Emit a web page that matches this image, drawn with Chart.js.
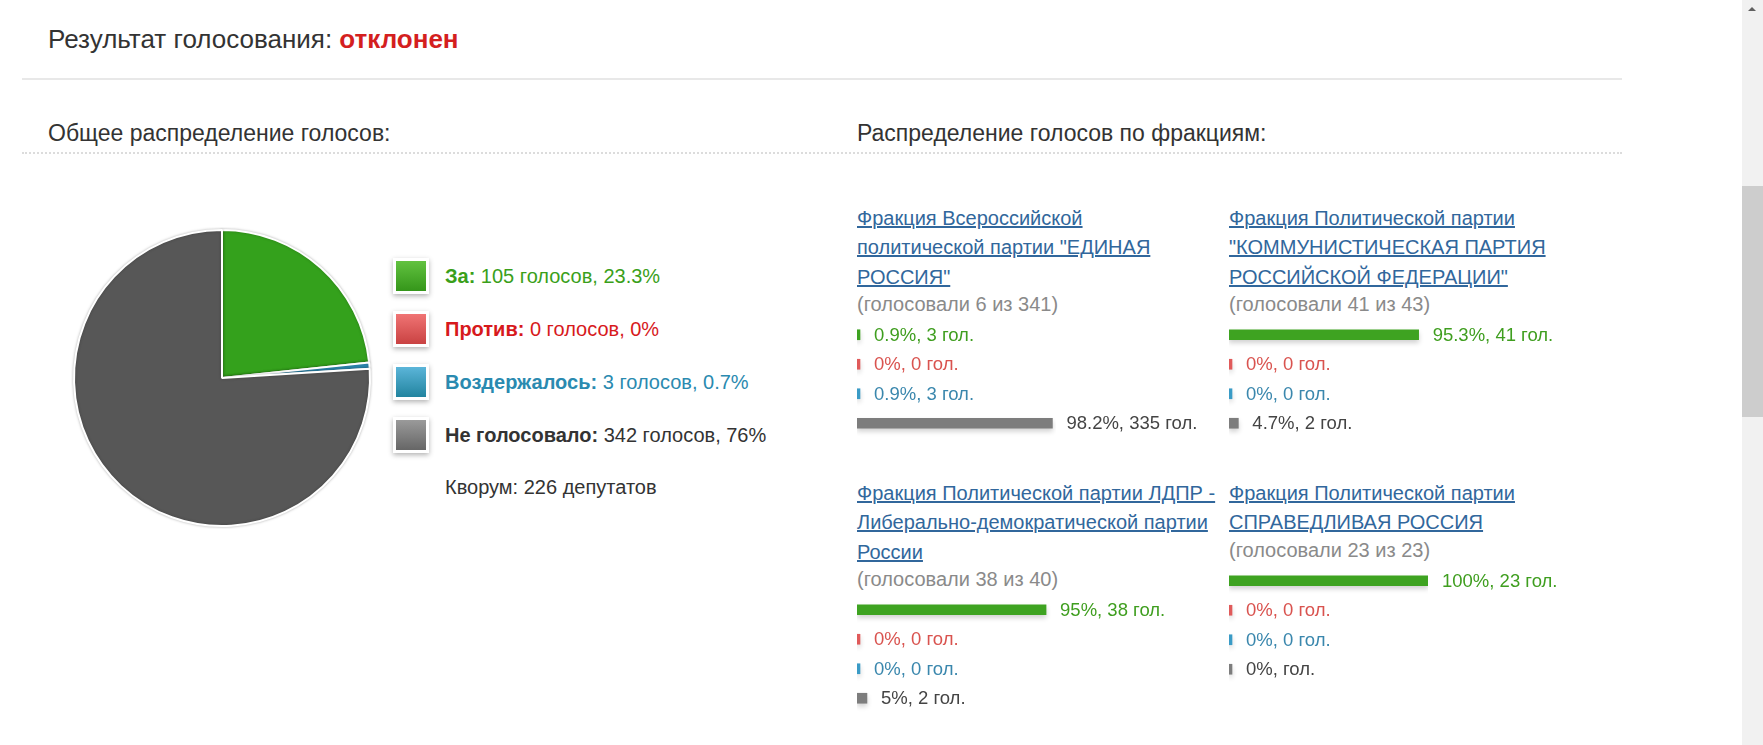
<!DOCTYPE html>
<html lang="ru">
<head>
  <meta charset="UTF-8" />
  <title>Результат голосования</title>
  <script src="https://cdn.jsdelivr.net/npm/chart.js"></script>
  <style>
    body {
      margin: 0;
      width: 1763px;
      height: 745px;
      overflow: hidden;
      position: relative;
      background: #fff;
      color: #333;
      font-family: "Liberation Sans", Arial, sans-serif;
    }
    .abs { position: absolute; }
    #title { left: 48px; top: 24px; font-size: 26px; line-height: 30px; white-space: nowrap; }
    #title b { color: #d41f1f; }
    .rule { left: 22px; width: 1600px; height: 0; }
    #rule1 { top: 78px; border-top: 2px solid #e8e8e8; }
    #rule2 { top: 152px; border-top: 2px dotted #dcdcdc; }
    .sub { top: 119px; font-size: 23px; line-height: 28px; white-space: nowrap; }
    #pie { left: 71px; top: 227px; }
    .leg { left: 393px; height: 36px; white-space: nowrap; }
    .sq {
      position: absolute; left: 0; top: 0; width: 30px; height: 30px;
      border: 3px solid #fff; box-shadow: 0 2px 5px rgba(0,0,0,0.3);
    }
    .leg span { position: absolute; left: 52px; top: 0; font-size: 20px; line-height: 36px; }
    #quorum { left: 445px; top: 473px; font-size: 20px; line-height: 28px; }
    .frac { width: 372px; }
    .frac a {
      display: block; font-size: 20px; line-height: 29.3px; color: #31679c;
      text-decoration: underline; white-space: nowrap;
    }
    .frac .voted { font-size: 20px; line-height: 24px; color: #8a8a8a; white-space: nowrap; }
    .frac canvas { display: block; margin-top: 4px; margin-left: -4px; }
    #scroll { right: 0; top: 0; width: 21px; height: 745px; background: #f1f1f1; }
    #thumb { left: 0; top: 186px; width: 21px; height: 231px; background: #cdcdcd; }
    #arrow {
      left: 6px; top: 7px; width: 0; height: 0;
      border-left: 4px solid transparent; border-right: 4px solid transparent;
      border-bottom: 4px solid #606060;
    }
  </style>
</head>
<body>
  <div id="title" class="abs">Результат голосования: <b>отклонен</b></div>
  <div id="rule1" class="abs rule"></div>
  <div class="abs sub" style="left:48px">Общее распределение голосов:</div>
  <div class="abs sub" style="left:857px">Распределение голосов по фракциям:</div>
  <div id="rule2" class="abs rule"></div>

  <canvas id="pie" class="abs" width="302" height="302"></canvas>
  <div id="legend"></div>
  <div id="quorum" class="abs"></div>
  <div id="factions"></div>

  <div id="scroll" class="abs"><div id="arrow" class="abs"></div><div id="thumb" class="abs"></div></div>

  <script>
    // общее распределение
    const voteLabels = ['За', 'Против', 'Воздержалось', 'Не голосовало'];
    const voteCounts = [105, 0, 3, 342];
    const votePercents = ['23.3', '0', '0.7', '76'];
    const quorum = 226;

    const sliceColors = ['#34a11c', '#d9534f', '#2e8db5', '#575757'];
    const legendText = ['#3a9f1a', '#d7191c', '#2a8ab0', '#333333'];
    const legendSquares = [
      'linear-gradient(#62c240, #35961a)',
      'linear-gradient(#f07474, #c94242)',
      'linear-gradient(#5bb5d9, #22849f)',
      'linear-gradient(#9a9a9a, #666666)'
    ];

    // по фракциям
    const factionNames = [
      ['Фракция Всероссийской', 'политической партии "ЕДИНАЯ', 'РОССИЯ"'],
      ['Фракция Политической партии', '"КОММУНИСТИЧЕСКАЯ ПАРТИЯ', 'РОССИЙСКОЙ ФЕДЕРАЦИИ"'],
      ['Фракция Политической партии ЛДПР -', 'Либерально-демократической партии', 'России'],
      ['Фракция Политической партии', 'СПРАВЕДЛИВАЯ РОССИЯ']
    ];
    const factionVoted = [6, 41, 38, 23];
    const factionTotal = [341, 43, 40, 23];

    const erPercents = [0.9, 0, 0.9, 98.2];
    const erCounts = [3, 0, 3, 335];
    const kprfPercents = [95.3, 0, 0, 4.7];
    const kprfCounts = [41, 0, 0, 2];
    const ldprPercents = [95, 0, 0, 5];
    const ldprCounts = [38, 0, 0, 2];
    const srPercents = [100, 0, 0, 0];
    const srCounts = [23, 0, 0, null];

    const factionPercents = [erPercents, kprfPercents, ldprPercents, srPercents];
    const factionCounts = [erCounts, kprfCounts, ldprCounts, srCounts];

    const barColors = ['#3ea321', '#e05a5a', '#3a9bc6', '#7d7d7d'];
    const barText = ['#3f9e1f', '#d9534f', '#3a87ad', '#444444'];

    // positions of the four blocks
    const blockPos = [[857, 204], [1229, 204], [857, 479], [1229, 479]];
    const legendY = [276, 329, 382, 435];

    // ---- pie ----
    const shadowPlugin = {
      id: 'softShadow',
      beforeDatasetsDraw(chart, args, opts) {
        const ctx = chart.ctx;
        ctx.save();
        ctx.shadowColor = opts.color;
        ctx.shadowBlur = opts.blur;
        ctx.shadowOffsetY = opts.offsetY;
      },
      afterDatasetsDraw(chart) {
        chart.ctx.restore();
      }
    };

    new Chart(document.getElementById('pie'), {
      type: 'pie',
      data: {
        labels: voteLabels,
        datasets: [{
          data: voteCounts,
          backgroundColor: sliceColors,
          borderColor: '#ffffff',
          borderWidth: 2
        }]
      },
      options: {
        responsive: false,
        animation: false,
        layout: { padding: 2 },
        plugins: {
          legend: { display: false },
          tooltip: { enabled: false },
          softShadow: { color: 'rgba(0,0,0,0.25)', blur: 3, offsetY: 0 }
        }
      },
      plugins: [shadowPlugin]
    });

    const legend = document.getElementById('legend');
    voteLabels.forEach((name, i) => {
      const row = document.createElement('div');
      row.className = 'abs leg';
      row.style.top = (legendY[i] - 18) + 'px';
      row.innerHTML =
        `<div class="sq" style="background:${legendSquares[i]}"></div>` +
        `<span style="color:${legendText[i]}"><b>${name}:</b> ${voteCounts[i]} голосов, ${votePercents[i]}%</span>`;
      legend.appendChild(row);
    });
    document.getElementById('quorum').textContent = `Кворум: ${quorum} депутатов`;

    // ---- bars per faction ----
    const barPlugin = {
      id: 'barDecor',
      beforeDatasetsDraw(chart) {
        const ctx = chart.ctx;
        ctx.save();
        ctx.shadowColor = 'rgba(0,0,0,0.18)';
        ctx.shadowBlur = 5;
        ctx.shadowOffsetY = 3;
      },
      afterDatasetsDraw(chart, args, opts) {
        const ctx = chart.ctx;
        ctx.restore();
        ctx.save();
        ctx.font = '18.5px "Liberation Sans", Arial, sans-serif';
        ctx.textBaseline = 'middle';
        chart.getDatasetMeta(0).data.forEach((bar, i) => {
          ctx.fillStyle = barText[i];
          ctx.fillText(opts.texts[i], bar.x + 14, bar.y + 1);
        });
        ctx.restore();
      }
    };

    const holder = document.getElementById('factions');
    factionNames.forEach((lines, f) => {
      const block = document.createElement('div');
      block.className = 'abs frac';
      block.style.left = blockPos[f][0] + 'px';
      block.style.top = blockPos[f][1] + 'px';
      block.innerHTML =
        lines.map(l => `<a href="#">${l.replace(/"/g, '&quot;')}</a>`).join('') +
        `<div class="voted">(голосовали ${factionVoted[f]} из ${factionTotal[f]})</div>`;
      const canvas = document.createElement('canvas');
      canvas.width = 365;
      canvas.height = 118;
      block.appendChild(canvas);
      holder.appendChild(block);

      const pct = factionPercents[f];
      const cnt = factionCounts[f];
      const texts = pct.map((p, i) => cnt[i] === null ? `${p}%, гол.` : `${p}%, ${cnt[i]} гол.`);

      new Chart(canvas, {
        type: 'bar',
        data: {
          labels: voteLabels,
          datasets: [{
            data: pct,
            backgroundColor: barColors,
            borderWidth: 0,
            barThickness: 10,
            minBarLength: 3
          }]
        },
        options: {
          indexAxis: 'y',
          responsive: false,
          animation: false,
          layout: { padding: { left: 4, right: 162, top: 0, bottom: 0 } },
          scales: {
            x: { display: false, min: 0, max: 100 },
            y: { display: false }
          },
          plugins: {
            legend: { display: false },
            tooltip: { enabled: false },
            barDecor: { texts }
          }
        },
        plugins: [barPlugin]
      });
    });
  </script>
</body>
</html>
